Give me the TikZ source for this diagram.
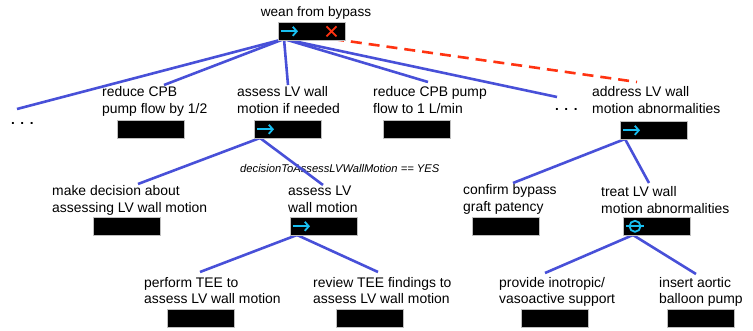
\documentclass[tikz,border=0pt]{standalone}
\usepackage{fontspec}
\setmainfont{Liberation Sans}
\usetikzlibrary{arrows.meta}
\definecolor{edgeblue}{RGB}{72,80,216}
\definecolor{dashred}{RGB}{255,51,17}
\definecolor{iconcyan}{RGB}{24,190,240}
\begin{document}
\begin{tikzpicture}[x=1pt,y=-1pt,
  lbl/.style={anchor=base west,inner sep=0pt,align=left,font=\fontsize{13.9}{16.5}\selectfont},
  cond/.style={anchor=base west,inner sep=0pt,font=\fontsize{11.2}{13}\selectfont\itshape},
  dotsnode/.style={anchor=base west,inner sep=0pt,font=\fontsize{13.6}{16.5}\selectfont\bfseries},
  blk/.style={draw=gray!50,line width=0.6pt,fill=black,minimum width=67pt,minimum height=18pt,inner sep=0pt,anchor=north west},
  conn/.style={draw=edgeblue,line width=2.6pt},
  reddash/.style={draw=dashred,line width=2.6pt,dash pattern=on 11pt off 7pt},
  icon/.style={draw=iconcyan,line width=1.8pt},
  iconarrow/.style={icon,-{Straight Barb[length=4pt,width=9pt]}}
]
\useasboundingbox (0,0) rectangle (753,331);
% text nodes (base = baseline of the last line)
\node[lbl,anchor=base,font=\fontsize{13.6}{16.5}\selectfont] (wean) at (316,17) {wean from bypass};
\node[dotsnode] (dL) at (11,125) {.\hspace{5.5pt}.\hspace{5.5pt}.};
\node[lbl] (tRA) at (102,113.5) {reduce CPB\\pump flow by 1/2};
\node[lbl] (tAL) at (237,113.5) {assess LV wall\\motion if needed};
\node[lbl] (tRB) at (373,113.5) {reduce CPB pump\\flow to 1 L/min};
\node[dotsnode] (dR) at (555,111) {.\hspace{5.5pt}.\hspace{5.5pt}.};
\node[lbl] (tAD) at (592,113.5) {address LV wall\\motion abnormalities};
\node[lbl] (tMD) at (52,212.5) {make decision about\\assessing LV wall motion};
\node[lbl] (tAW) at (288,212.5) {assess LV\\wall motion};
\node[lbl] (tCB) at (463,211.5) {confirm bypass\\graft patency};
\node[lbl] (tTR) at (601,213.5) {treat LV wall\\motion abnormalities};
\node[lbl] (tPT) at (144,303.5) {perform TEE to\\assess LV wall motion};
\node[lbl] (tRV) at (313,303.5) {review TEE findings to\\assess LV wall motion};
\node[lbl] (tPI) at (499,303.5) {provide inotropic/\\vasoactive support};
\node[lbl] (tIA) at (659,303.5) {insert aortic\\balloon pump};
\node[cond] (cond) at (240,173) {decisionToAssessLVWallMotion == YES};
% end points of connectors
\coordinate (eDL) at (17,109);
\coordinate (eRA) at (164,85);
\coordinate (eAL) at (288,85);
\coordinate (eRB) at (428,82);
\coordinate (eDR) at (557,97);
\coordinate (eAD) at (637,82);
\coordinate (eMD) at (138,184);
\coordinate (eAW) at (323,185);
\coordinate (ePT) at (200,272);
\coordinate (eRV) at (378,272);
\coordinate (eCB) at (513,183);
\coordinate (eTR) at (649,183);
\coordinate (ePI) at (545,273);
\coordinate (eIA) at (696,274);
% boxes (positions)
\coordinate (pWean) at (278,22);
\coordinate (pRA) at (117,120);
\coordinate (pAL) at (254,120);
\coordinate (pRB) at (383,120);
\coordinate (pAD) at (620,121);
\coordinate (pMD) at (93,217);
\coordinate (pAW) at (290,217);
\coordinate (pCB) at (472,217);
\coordinate (pTR) at (623,217);
\coordinate (pPT) at (167,309);
\coordinate (pRV) at (336,309);
\coordinate (pPI) at (521,309);
\coordinate (pIA) at (667,309);
% junctions
\coordinate (jWean) at (284,39);
\coordinate (jX) at (333,39);
\coordinate (jAL) at (260,138);
\coordinate (jAW) at (297,235);
\coordinate (jAD) at (625,139);
\coordinate (jTR) at (633,235);
% connectors
\draw[conn] (jWean) -- (eDL);
\draw[conn] (jWean) -- (eRA);
\draw[conn] (jWean) -- (eAL);
\draw[conn] (jWean) -- (eRB);
\draw[conn] (jWean) -- (eDR);
\draw[reddash] (jX) -- (eAD);
\draw[conn] (jAL) -- (eMD);
\draw[conn] (jAL) -- (eAW);
\draw[conn] (jAW) -- (ePT);
\draw[conn] (jAW) -- (eRV);
\draw[conn] (jAD) -- (eCB);
\draw[conn] (jAD) -- (eTR);
\draw[conn] (jTR) -- (ePI);
\draw[conn] (jTR) -- (eIA);
% black boxes
\node[blk] (bWean) at (pWean) {};
\node[blk] (bRA) at (pRA) {};
\node[blk] (bAL) at (pAL) {};
\node[blk] (bRB) at (pRB) {};
\node[blk] (bAD) at (pAD) {};
\node[blk] (bMD) at (pMD) {};
\node[blk] (bAW) at (pAW) {};
\node[blk] (bCB) at (pCB) {};
\node[blk] (bTR) at (pTR) {};
\node[blk] (bPT) at (pPT) {};
\node[blk] (bRV) at (pRV) {};
\node[blk] (bPI) at (pPI) {};
\node[blk] (bIA) at (pIA) {};
% icons
\draw[iconarrow] ([xshift=2.5pt]bWean.west) -- ([xshift=20pt]bWean.west);
\draw[draw=dashred,line width=1.8pt] ([shift={(48.5,-5)}]bWean.west) -- ([shift={(58.5,5)}]bWean.west)
  ([shift={(48.5,5)}]bWean.west) -- ([shift={(58.5,-5)}]bWean.west);
\draw[iconarrow] ([xshift=3pt]bAL.west) -- ([xshift=20pt]bAL.west);
\draw[iconarrow] ([xshift=3pt]bAD.west) -- ([xshift=20pt]bAD.west);
\draw[iconarrow] ([xshift=2.5pt]bAW.west) -- ([xshift=20pt]bAW.west);
\draw[icon] ([xshift=12pt]bTR.west) circle[radius=5.5pt];
\draw[icon] ([xshift=3pt]bTR.west) -- ([xshift=21pt]bTR.west);
\end{tikzpicture}
\end{document}
